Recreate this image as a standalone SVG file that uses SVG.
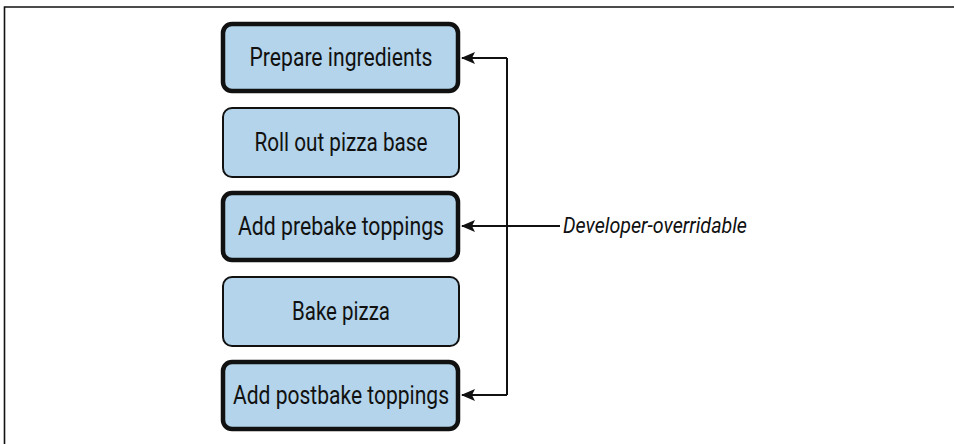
<svg xmlns="http://www.w3.org/2000/svg" width="955" height="444" viewBox="0 0 955 444">
<style>
.box{fill:#b3d4ea;stroke:#111;}
.thick{stroke-width:4.5;}
.thin{stroke-width:2;}
.lbl{font-family:Roboto,"Liberation Sans",sans-serif;font-size:25px;fill:#111;text-anchor:middle;}
.note{font-family:Roboto,"Liberation Sans",sans-serif;font-size:22px;font-style:italic;fill:#111;}
.con{fill:none;stroke:#111;stroke-width:2;}
</style>
<defs>
<marker id="ah" markerWidth="14" markerHeight="14" refX="13" refY="7" orient="auto" markerUnits="userSpaceOnUse">
<path d="M0,1 L14,7 L0,13 L3,7 Z" fill="#111"/>
</marker>
</defs>
<rect width="955" height="444" fill="#fff"/>
<path d="M4.5,444 V7 H954" fill="none" stroke="#111" stroke-width="1.6"/>
<g id="n1"><rect class="box thick" x="223" y="24" width="235" height="67" rx="9"/><text class="lbl" x="341" y="66" textLength="183" lengthAdjust="spacingAndGlyphs">Prepare ingredients</text></g>
<g id="n2"><rect class="box thin" x="223" y="108" width="236" height="69" rx="9"/><text class="lbl" x="341" y="151" textLength="173" lengthAdjust="spacingAndGlyphs">Roll out pizza base</text></g>
<g id="n3"><rect class="box thick" x="223" y="193" width="235" height="67" rx="9"/><text class="lbl" x="341" y="235" textLength="206" lengthAdjust="spacingAndGlyphs">Add prebake toppings</text></g>
<g id="n4"><rect class="box thin" x="223" y="277" width="236" height="69" rx="9"/><text class="lbl" x="341" y="320" textLength="98" lengthAdjust="spacingAndGlyphs">Bake pizza</text></g>
<g id="n5"><rect class="box thick" x="223" y="362" width="235" height="67" rx="9"/><text class="lbl" x="341" y="404" textLength="216" lengthAdjust="spacingAndGlyphs">Add postbake toppings</text></g>
<g id="connectors">
<path class="con" d="M507,58 V395"/>
<path class="con" d="M507,58 H462" marker-end="url(#ah)"/>
<path class="con" d="M560,226 H462" marker-end="url(#ah)"/>
<path class="con" d="M507,395 H462" marker-end="url(#ah)"/>
</g>
<text class="note" x="563" y="233" textLength="184" lengthAdjust="spacingAndGlyphs">Developer-overridable</text>
</svg>
